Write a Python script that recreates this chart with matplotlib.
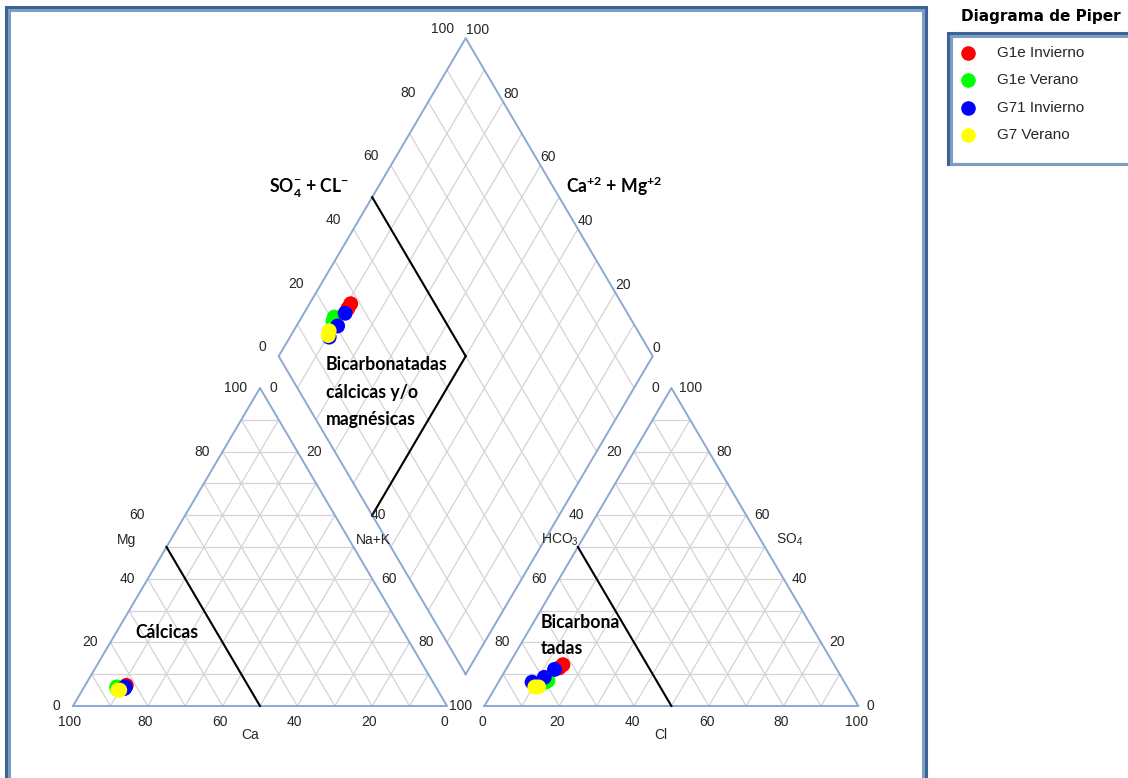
import numpy as np
import matplotlib
matplotlib.use('Agg')
import matplotlib.pyplot as plt
from matplotlib.lines import Line2D

plt.rcParams['mathtext.default'] = 'regular'

# sample groups and their ionic composition (% meq/l)
groups = ['G1e Invierno', 'G1e Verano', 'G71 Invierno', 'G7 Verano']
colors = ['#FF0000', '#00FF00', '#0000FF', '#FFFF00']

ca = [[82.5, 83.0], [85.3, 85.5], [83.0, 83.5, 84.0], [85.5, 85.0]]
mg = [[6.5, 6.0], [6.0, 5.5], [6.0, 5.5, 5.5], [5.0, 5.0]]
na_k = [[11.0, 11.0], [8.7, 9.0], [11.0, 11.0, 10.5], [9.5, 10.0]]
hco3 = [[72.5, 74.0], [79.0, 80.0], [75.5, 79.5, 83.5], [82.5, 83.5]]
so4 = [[13.0, 12.0], [8.0, 7.5], [11.5, 9.0, 7.5], [6.0, 6.0]]
cl = [[14.5, 14.0], [13.0, 12.5], [13.0, 11.5, 9.0], [11.5, 10.5]]

tick_vals = [0, 20, 40, 60, 80, 100]

H = np.sqrt(3) / 2
GAP = 10

GRID = '#D4D4D4'
EDGE = '#8CA8D5'
LBL = '#262626'
TICKFONT = dict(family='Liberation Sans', size=10, color=LBL)
BOLDFONT = dict(family='Lato', weight='bold', size=12.7, color='black')

# corners: (first, second, third) component -> xy
CAT = np.array([[0, 0], [100, 0], [50, 100 * H]])            # Ca, Na+K, Mg
AN = np.array([[100 + GAP, 0], [200 + GAP, 0], [150 + GAP, 100 * H]])  # HCO3, Cl, SO4
D_B = np.array([100 + GAP / 2, GAP * H])
D_C = np.array([-50, 100 * H])   # towards Ca+Mg = 100
D_A = np.array([50, 100 * H])    # towards SO4+Cl = 100


def tri(w0, w1, w2, corners):
    w = np.array([w0, w1, w2], dtype=float) / 100.0
    return w @ corners


def dia(c, a):
    return D_B + c / 100.0 * D_C + a / 100.0 * D_A


def line(ax, p, q, **kw):
    ax.plot([p[0], q[0]], [p[1], q[1]], **kw)


def tri_grid(ax, corners):
    for k in range(3):
        j, l = [i for i in range(3) if i != k]
        for v in range(10, 100, 10):
            w1 = np.zeros(3); w1[k] = v; w1[j] = 100 - v
            w2 = np.zeros(3); w2[k] = v; w2[l] = 100 - v
            line(ax, tri(*w1, corners), tri(*w2, corners), color=GRID, lw=0.9, zorder=1)
    pts = np.vstack([corners, corners[:1]])
    ax.plot(pts[:, 0], pts[:, 1], color=EDGE, lw=1.4, zorder=2)


def dia_grid(ax):
    for v in range(10, 100, 10):
        line(ax, dia(v, 0), dia(v, 100), color=GRID, lw=0.9, zorder=1)
        line(ax, dia(0, v), dia(100, v), color=GRID, lw=0.9, zorder=1)
    pts = np.array([dia(0, 0), dia(100, 0), dia(100, 100), dia(0, 100), dia(0, 0)])
    ax.plot(pts[:, 0], pts[:, 1], color=EDGE, lw=1.4, zorder=2)


def tick(ax, p, text, dx, dy, ha='center'):
    ax.annotate(text, p, xytext=(dx, dy), textcoords='offset pixels',
                ha=ha, va='center', **TICKFONT)


fig = plt.figure(figsize=(11.28, 7.78), dpi=100)
ax = fig.add_axes([0, 0, 1, 1])
sx, sy = 3.74, 3.672
ax.set_xlim(-73 / sx, (1128 - 73) / sx)
ax.set_ylim((706 - 778) / sy, 706 / sy)
ax.axis('off')

tri_grid(ax, CAT)
tri_grid(ax, AN)
dia_grid(ax)

# classification lines
kw = dict(color='black', lw=1.5, zorder=3)
line(ax, tri(50, 0, 50, CAT), tri(50, 50, 0, CAT), **kw)
line(ax, tri(50, 0, 50, AN), tri(50, 50, 0, AN), **kw)
line(ax, dia(100, 50), dia(50, 50), **kw)
line(ax, dia(50, 50), dia(50, 0), **kw)

# tick labels
for v in tick_vals:
    tick(ax, tri(v, 100 - v, 0, CAT), str(v), -3, -16)
    tick(ax, tri(100 - v, 0, v, CAT), str(v), -13 - (27 if v == 60 else 0), 0, 'right')
    if v < 100:
        tick(ax, tri(0, v, 100 - v, CAT), str(v), 9 + (27 if v == 40 else 0), 0, 'left')
    tick(ax, tri(100 - v, v, 0, AN), str(v), -2, -16)
    tick(ax, tri(v, 0, 100 - v, AN), str(v), -12, 0, 'right')
    tick(ax, tri(0, 100 - v, v, AN), str(v), 8, 0, 'left')
    tick(ax, dia(100, v), str(v), -12, 9, 'right')
    tick(ax, dia(v, 100), str(v), 0, 8, 'left')

# axis names
tick(ax, tri(50, 50, 0, CAT), 'Ca', -10, -29)
tick(ax, tri(50, 0, 50, CAT), 'Mg', -40, 7)
tick(ax, tri(0, 50, 50, CAT), 'Na+K', 20, 7)
tick(ax, tri(50, 50, 0, AN), 'Cl', -11, -29)
tick(ax, tri(50, 0, 50, AN), 'HCO$_3$', -18, 7)
tick(ax, tri(0, 50, 50, AN), 'SO$_4$', 25, 7)

# samples
for g, col, c1, m1, n1, h1, s1, l1 in zip(groups, colors, ca, mg, na_k, hco3, so4, cl):
    p_cat = np.array([tri(a, b, c, CAT) for a, b, c in zip(c1, n1, m1)])
    p_an = np.array([tri(a, b, c, AN) for a, b, c in zip(h1, l1, s1)])
    p_d = np.array([dia(100 - n, s + l) for n, s, l in zip(n1, s1, l1)])
    for p in (p_cat, p_an, p_d):
        ax.scatter(p[:, 0], p[:, 1], s=115, color=col, edgecolors='none', zorder=5)

# region names
ax.text(63.1, 141.3, 'SO$_4^{-}$ + CL$^{-}$', ha='center', va='center', **BOLDFONT)
ax.text(144.7, 141.6, 'Ca$^{+2}$ + Mg$^{+2}$', ha='center', va='center', **BOLDFONT)
for i, s in enumerate(['Bicarbonatadas', 'cálcicas y/o', 'magnésicas']):
    ax.text(67.6, (706 - 365 - 27.5 * i) / sy, s, ha='left', va='center', **BOLDFONT)
ax.text(16.6, 19.9, 'Cálcicas', ha='left', va='center', **BOLDFONT)
ax.text(125.1, (706 - 622) / sy, 'Bicarbona', ha='left', va='center', **BOLDFONT)
ax.text(125.1, (706 - 648) / sy, 'tadas', ha='left', va='center', **BOLDFONT)

# outer frames
W, Hf = 1128.0, 778.0


def frame(x0, y0, x1, y1):
    for off, col in ((0, '#3B6494'), (3, '#7F9CC3')):
        xs = np.array([x0 + off, x0 + off, x1 - off, x1 - off, x0 + off]) / W
        ys = 1 - np.array([y1, y0 + off, y0 + off, y1, y1]) / Hf
        fig.add_artist(Line2D(xs, ys, color=col, lw=2.2, transform=fig.transFigure,
                              solid_joinstyle='miter'))


frame(6, 7, 926, 800)
frame(948, 33, 1150, 164)

fig.text(1041 / W, 1 - 16 / Hf, 'Diagrama de Piper', ha='center', va='center',
         family='DejaVu Sans', weight='bold', size=11)
for i, (g, col) in enumerate(zip(groups, colors)):
    yy = 1 - (53 + 27.3 * i) / Hf
    fig.add_artist(Line2D([968 / W], [yy], marker='o', markersize=10.5, color=col,
                          markeredgecolor='none', transform=fig.transFigure))
    fig.text(997 / W, yy, g, ha='left', va='center', family='Liberation Sans',
             size=11, color=LBL)

fig.savefig('out.png', dpi=100)
